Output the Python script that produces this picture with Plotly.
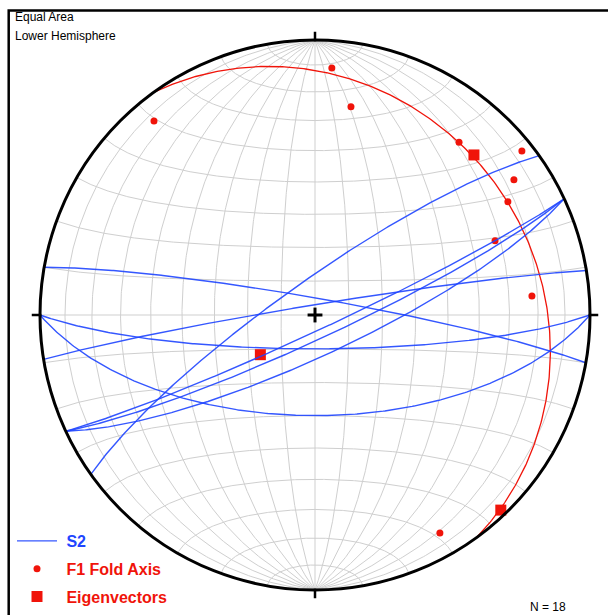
import numpy as np
import plotly.graph_objects as go

# ---------------- data ----------------
# S2 planes: dip direction (deg) and dip (deg)
s2_dipdir = [10.0, 350.7, 180.0, 180.0, 324.6, 155.0, 155.0, 155.0]
s2_dip = [85.0, 87.0, 60.0, 80.0, 80.0, 85.5, 83.0, 78.0]

# F1 fold axes: trend and plunge (deg)
f1_trend = [3.9, 9.8, 320.3, 39.8, 51.6, 55.8, 59.6, 67.6, 85.0, 150.2]
f1_plunge = [10.9, 24.2, 9.2, 19.3, 4.5, 13.6, 19.8, 29.9, 21.9, 9.5]

# Eigenvectors: trend and plunge (deg)
eig_trend = [44.8, 234.0, 136.4]
eig_plunge = [19.1, 70.0, 2.3]

# Best-fit girdle (plane normal to the smallest eigenvector)
girdle_dipdir = [54.0]
girdle_dip = [20.0]

n_label = "N = 18"

# ---------------- styles ----------------
BLUE = "#1f45ff"
RED = "#f0140a"
GRID = "#cfcfcf"
W, H = 608, 615
CX, CY, R = 315.0, 315.0, 275.0


def proj(trend, plunge):
    t = np.radians(np.asarray(trend, float))
    p = np.radians(np.asarray(plunge, float))
    r = np.sqrt(2.0) * np.sin((np.pi / 2 - p) / 2.0)
    return r * np.sin(t), r * np.cos(t)


def vec_to_tp(n, e, d):
    d = np.clip(d, -1, 1)
    plunge = np.degrees(np.arcsin(d))
    trend = np.degrees(np.arctan2(e, n))
    return trend, plunge


def great_circle(dipdir, dip, npts=361):
    dd = np.radians(dipdir)
    dp = np.radians(dip)
    s = dd - np.pi / 2
    a = np.linspace(0, np.pi, npts)
    S = np.array([np.cos(s), np.sin(s), 0.0])
    D = np.array([np.cos(dp) * np.cos(dd), np.cos(dp) * np.sin(dd), np.sin(dp)])
    v = np.outer(np.cos(a), S) + np.outer(np.sin(a), D)
    t, p = vec_to_tp(v[:, 0], v[:, 1], v[:, 2])
    return proj(t, p)


def small_circle_ns(theta, npts=361):
    th = np.radians(theta)
    ph = np.linspace(0, np.pi, npts)
    n = np.full_like(ph, np.cos(th))
    e = np.sin(th) * np.cos(ph)
    d = np.sin(th) * np.sin(ph)
    t, p = vec_to_tp(n, e, d)
    return proj(t, p)


fig = go.Figure()

# ---------------- grid (equal-area net, 10 deg) ----------------
gx, gy = [], []
for dip in range(10, 90, 10):
    for dd in (90, 270):
        x, y = great_circle(dd, dip)
        gx += list(x) + [None]
        gy += list(y) + [None]
gx += [0, 0, None, -1, 1, None]
gy += [1, -1, None, 0, 0, None]
for th in range(10, 180, 10):
    if th == 90:
        continue
    x, y = small_circle_ns(th)
    gx += list(x) + [None]
    gy += list(y) + [None]
fig.add_trace(go.Scatter(x=gx, y=gy, mode="lines", line=dict(color=GRID, width=1),
                         hoverinfo="skip", showlegend=False))

# ---------------- girdle ----------------
for dd, dp in zip(girdle_dipdir, girdle_dip):
    x, y = great_circle(dd, dp)
    fig.add_trace(go.Scatter(x=x, y=y, mode="lines", line=dict(color=RED, width=1.3),
                             showlegend=False, hoverinfo="skip"))

# ---------------- F1 fold axes ----------------
fx, fy = proj(f1_trend, f1_plunge)
fig.add_trace(go.Scatter(x=fx, y=fy, mode="markers",
                         marker=dict(color=RED, size=7, symbol="circle"),
                         name=f"<b><span style='color:{RED}'>\u00a0F1 Fold Axis</span></b>",
                         legendgroup="f1", legendrank=2))

# ---------------- Eigenvectors ----------------
ex, ey = proj(eig_trend, eig_plunge)
fig.add_trace(go.Scatter(x=ex, y=ey, mode="markers",
                         marker=dict(color=RED, size=11, symbol="square"),
                         name=f"<b><span style='color:{RED}'>\u00a0Eigenvectors</span></b>",
                         legendgroup="eig", legendrank=3))

# ---------------- S2 great circles (drawn over the points) ----------------
for i, (dd, dp) in enumerate(zip(s2_dipdir, s2_dip)):
    x, y = great_circle(dd, dp)
    fig.add_trace(go.Scatter(x=x, y=y, mode="lines", line=dict(color=BLUE, width=1.4),
                             opacity=0.9,
                             name=f"<b><span style='color:{BLUE}'>\u00a0S2</span></b>",
                             legendgroup="s2", legendrank=1, showlegend=(i == 0)))

# ---------------- primitive, ticks, centre cross ----------------
shapes = [dict(type="circle", xref="x", yref="y", x0=-1, y0=-1, x1=1, y1=1,
               line=dict(color="black", width=3), layer="above")]
tk = 0.03
for ang in (0, 90, 180, 270):
    a = np.radians(ang)
    shapes.append(dict(type="line", xref="x", yref="y",
                       x0=np.sin(a) * 0.995, y0=np.cos(a) * 0.995,
                       x1=np.sin(a) * (1 + tk), y1=np.cos(a) * (1 + tk),
                       line=dict(color="black", width=2.5)))
c = 0.027
shapes.append(dict(type="line", xref="x", yref="y", x0=-c, y0=0, x1=c, y1=0,
                   line=dict(color="black", width=3)))
shapes.append(dict(type="line", xref="x", yref="y", x0=0, y0=-c, x1=0, y1=c,
                   line=dict(color="black", width=3)))
# frame (top and left)
fx0 = 8.7 / W
fy0 = 1 - 10.5 / H
shapes.append(dict(type="path", xref="paper", yref="paper",
                   path=f"M {fx0},0 L {fx0},{fy0} L 1,{fy0}",
                   line=dict(color="black", width=2.5)))

annotations = [
    dict(text="Equal Area", xref="paper", yref="paper", x=13 / W, y=1 - 17 / H,
         xanchor="left", yanchor="middle", showarrow=False,
         font=dict(family="Liberation Sans, Arial", size=12, color="black")),
    dict(text="Lower Hemisphere", xref="paper", yref="paper", x=13 / W, y=1 - 36 / H,
         xanchor="left", yanchor="middle", showarrow=False,
         font=dict(family="Liberation Sans, Arial", size=12, color="black")),
    dict(text=n_label, xref="paper", yref="paper", x=548 / W, y=1 - 607 / H,
         xanchor="center", yanchor="middle", showarrow=False,
         font=dict(family="Liberation Sans, Arial", size=12, color="black")),
]

fig.update_layout(
    width=W, height=H,
    margin=dict(l=0, r=0, t=0, b=0),
    paper_bgcolor="white", plot_bgcolor="white",
    xaxis=dict(range=[-CX / R, (W - CX) / R], visible=False, fixedrange=True),
    yaxis=dict(range=[-(H - CY) / R, CY / R], visible=False, fixedrange=True),
    shapes=shapes, annotations=annotations,
    showlegend=True,
    legend=dict(x=12 / W, y=1.0 / H, xanchor="left", yanchor="bottom",
                bgcolor="rgba(0,0,0,0)", tracegroupgap=4, itemwidth=40,
                font=dict(family="Liberation Sans, Arial", size=16)),
)

fig.write_html("out.html", config={"displayModeBar": False},
               post_script="document.body.style.margin='0';")
